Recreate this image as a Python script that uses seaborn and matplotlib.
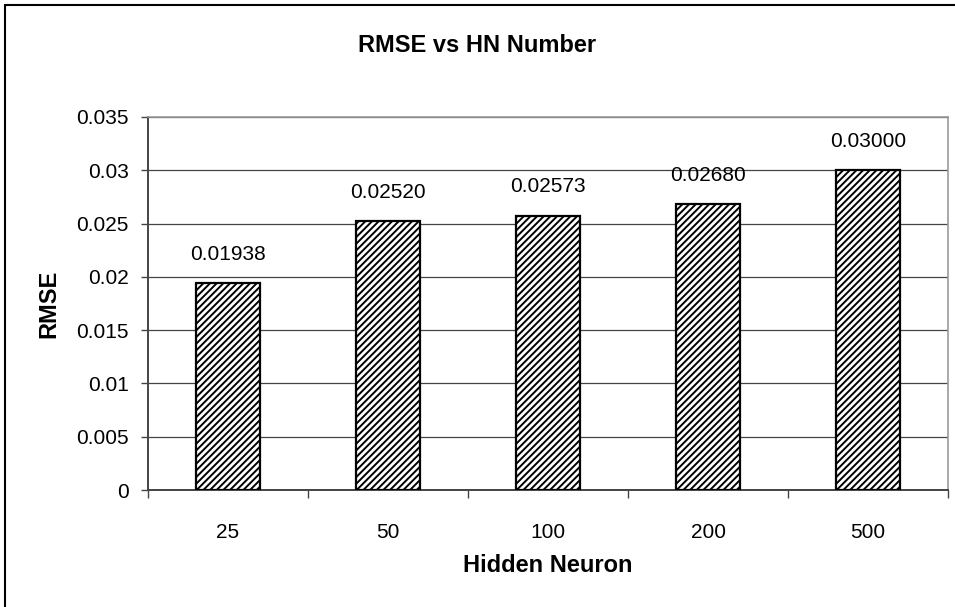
import matplotlib
matplotlib.use("Agg")
import matplotlib.pyplot as plt
import seaborn as sns
import pandas as pd
from matplotlib.patches import Rectangle
from matplotlib.ticker import FixedLocator

categories = ["25", "50", "100", "200", "500"]
rmse = [0.01938, 0.02520, 0.02573, 0.02680, 0.03000]
labels = ["0.01938", "0.02520", "0.02573", "0.02680", "0.03000"]
yticks = [0, 0.005, 0.01, 0.015, 0.02, 0.025, 0.03, 0.035]
ytick_labels = ["0", "0.005", "0.01", "0.015", "0.02", "0.025", "0.03", "0.035"]

sns.set_theme(style="white")
plt.rcParams["font.family"] = ["Liberation Sans", "DejaVu Sans"]
plt.rcParams["text.color"] = "black"
plt.rcParams["axes.labelcolor"] = "black"
plt.rcParams["xtick.color"] = "black"
plt.rcParams["ytick.color"] = "black"
plt.rcParams["hatch.color"] = "#4a4a4a"
plt.rcParams["hatch.linewidth"] = 1.4

df = pd.DataFrame({"HN": categories, "RMSE": rmse})

fig = plt.figure(figsize=(9.55, 6.07), dpi=100)
L, R, T, B = 148, 948, 117, 490
ax = fig.add_axes([L/955, 1 - B/607, (R-L)/955, (B-T)/607])

sns.barplot(data=df, x="HN", y="RMSE", ax=ax, color="white", width=0.4,
            edgecolor="black", linewidth=1.6, hatch="/////", zorder=3)

ax.set_ylim(0, 0.035)
ax.set_xlim(-0.5, 4.5)
ax.yaxis.set_major_locator(FixedLocator(yticks))
ax.set_yticklabels(ytick_labels, fontsize=15)
ax.tick_params(axis="x", labelsize=15, length=0, pad=24)
ax.tick_params(axis="y", length=5, width=1, color="#444444", left=True, pad=9)
ax.xaxis.set_minor_locator(FixedLocator([-0.5, 0.5, 1.5, 2.5, 3.5, 4.5]))
ax.tick_params(axis="x", which="minor", length=6, width=1, color="#444444", bottom=True, direction="out")
ax.yaxis.grid(True, color="#444444", linewidth=0.9, zorder=0)
ax.set_axisbelow(True)

for s in ["left", "bottom"]:
    ax.spines[s].set_color("#444444")
    ax.spines[s].set_linewidth(1.4)
for s in ["top", "right"]:
    ax.spines[s].set_color("#999999")
    ax.spines[s].set_linewidth(1.2)

for i, (v, t) in enumerate(zip(rmse, labels)):
    ax.annotate(t, (i, v), xytext=(0, 14), textcoords="offset points",
                ha="center", va="bottom", fontsize=15, color="black")

ax.set_xlabel("Hidden Neuron", fontsize=17, fontweight="bold")
ax.set_ylabel("RMSE", fontsize=17, fontweight="bold")
ax.xaxis.label.set_va("center")
ax.yaxis.label.set_va("center")
ax.xaxis.set_label_coords((548 - L) / (R - L), (B - 565) / (B - T))
ax.yaxis.set_label_coords((49 - L) / (R - L), 0.5)

fig.text(477 / 955, 1 - 45/607, "RMSE vs HN Number",
         ha="center", va="center", fontsize=17, fontweight="bold")

fig.patches.append(Rectangle((5/955, -0.05), 1.1, 1 - 5/607 + 0.05,
                             transform=fig.transFigure, fill=False,
                             edgecolor="black", linewidth=1.5))

fig.savefig("out.png", dpi=100)
